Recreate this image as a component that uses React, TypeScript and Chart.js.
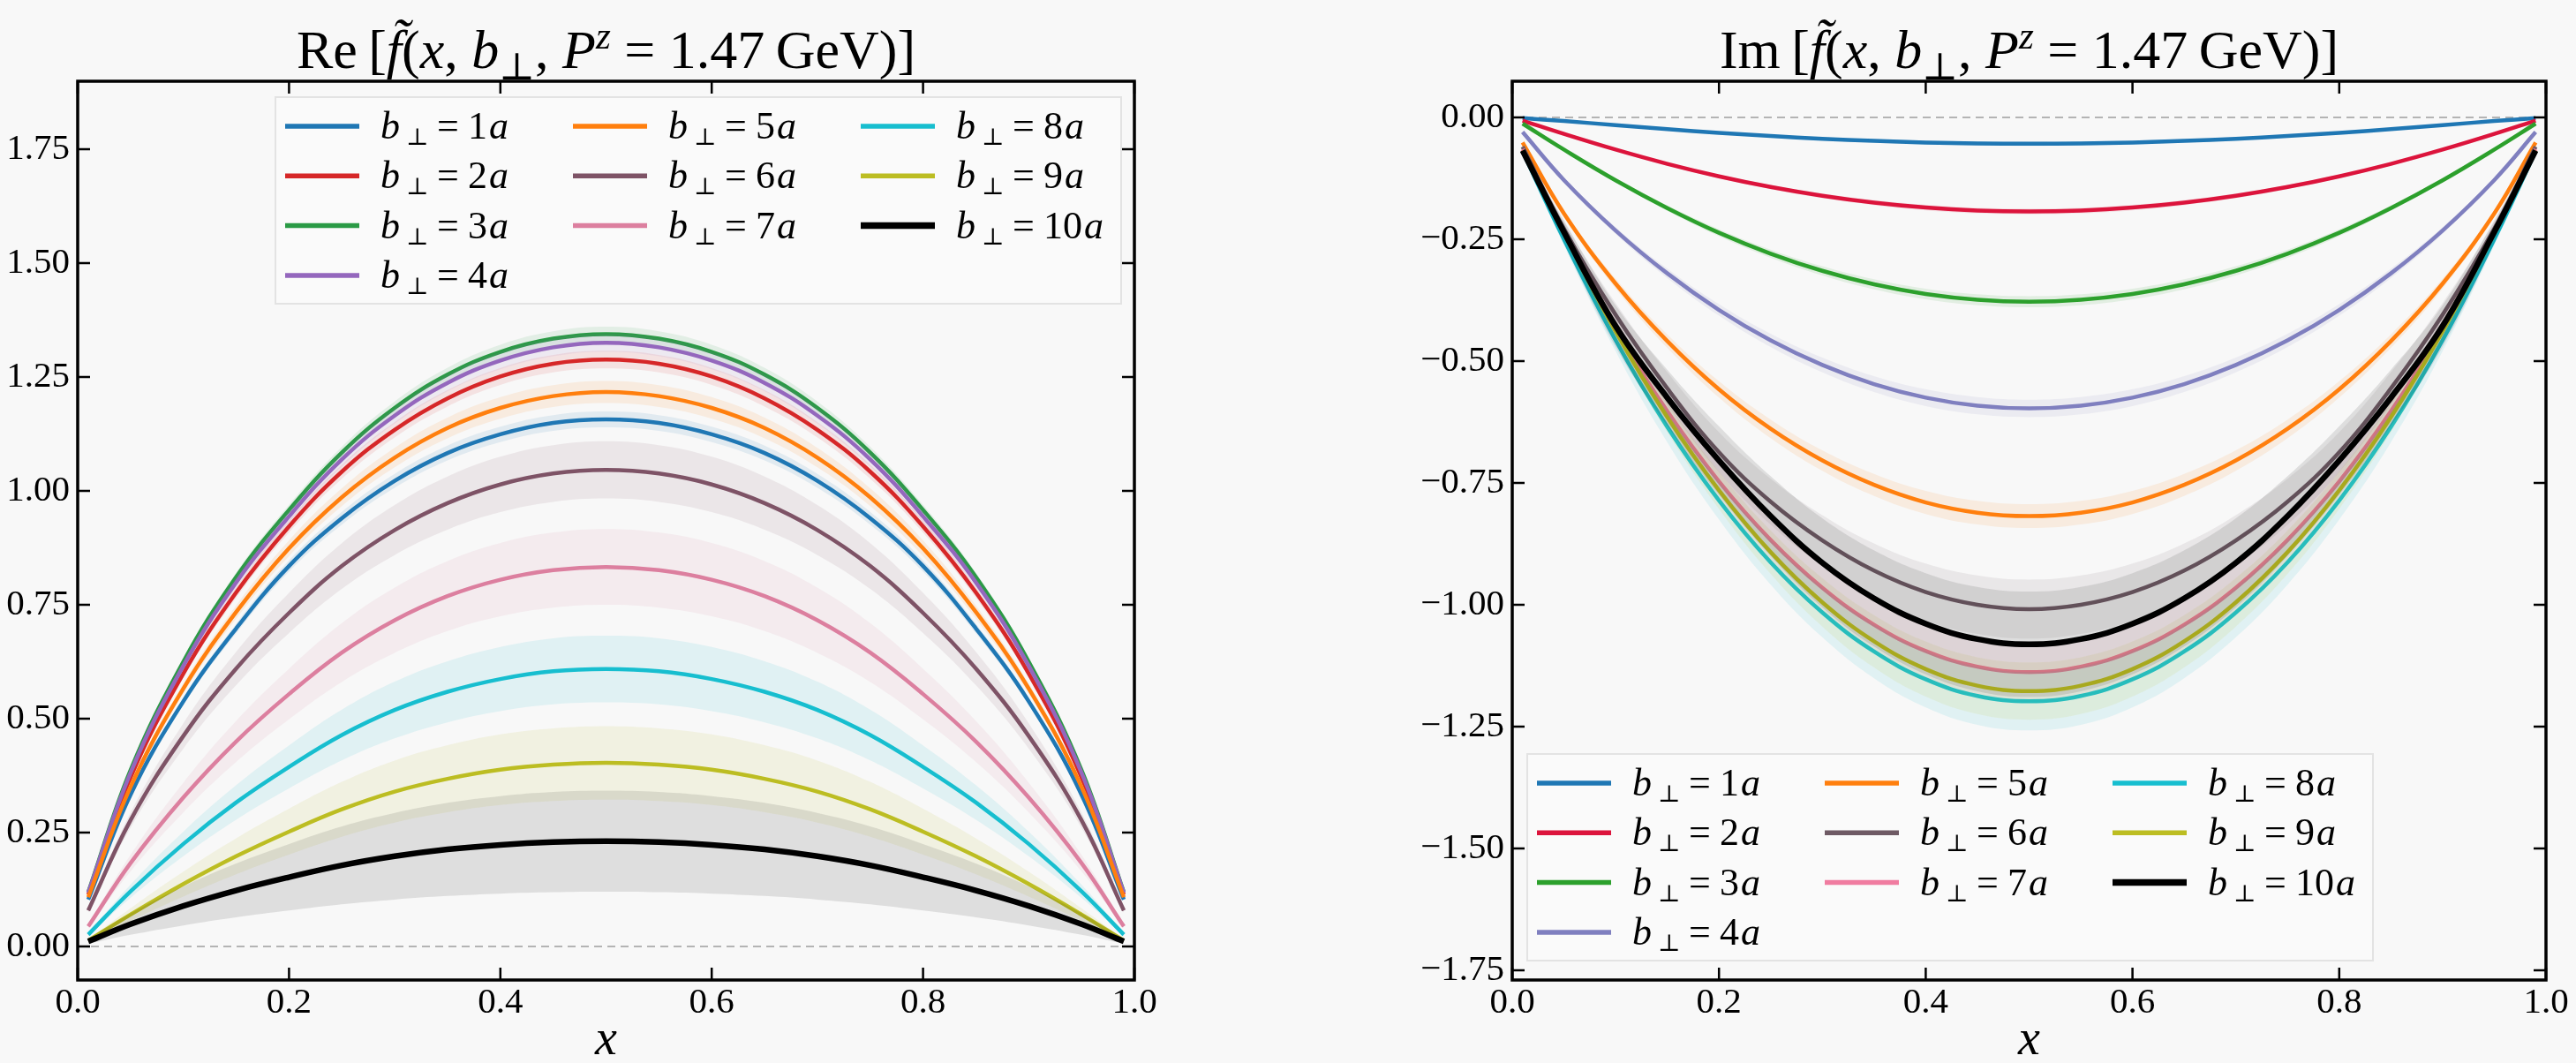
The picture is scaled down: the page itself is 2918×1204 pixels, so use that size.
import React, { useEffect, useRef } from "react";
import { Chart, registerables } from "chart.js";

Chart.register(...registerables);

const SERIF = "'Liberation Serif', 'DejaVu Serif', 'Times New Roman', serif";

const xs = [0.01, 0.05, 0.1, 0.15, 0.2, 0.25, 0.3, 0.35, 0.4, 0.45, 0.5, 0.55, 0.6, 0.65, 0.7, 0.75, 0.8, 0.85, 0.9, 0.95, 0.99];
const xTicks = [0, 0.2, 0.4, 0.6, 0.8, 1.0];
const reTicks = [0, 0.25, 0.5, 0.75, 1.0, 1.25, 1.5, 1.75];
const imTicks = [0, -0.25, -0.5, -0.75, -1.0, -1.25, -1.5, -1.75];
const bPerp = [1, 2, 3, 4, 5, 6, 7, 8, 9, 10];

// Re part, one array per b_perp
const re1 = [0.103, 0.333, 0.538, 0.698, 0.835, 0.94, 1.022, 1.083, 1.124, 1.149, 1.157, 1.149, 1.124, 1.083, 1.022, 0.94, 0.835, 0.698, 0.538, 0.333, 0.103];
const re2 = [0.114, 0.371, 0.599, 0.777, 0.922, 1.042, 1.134, 1.203, 1.251, 1.279, 1.288, 1.279, 1.251, 1.203, 1.134, 1.042, 0.922, 0.777, 0.599, 0.371, 0.114];
const re3 = [0.119, 0.387, 0.625, 0.811, 0.958, 1.084, 1.182, 1.255, 1.305, 1.334, 1.344, 1.334, 1.305, 1.255, 1.182, 1.084, 0.958, 0.811, 0.625, 0.387, 0.119];
const re4 = [0.118, 0.381, 0.616, 0.799, 0.944, 1.069, 1.165, 1.237, 1.286, 1.315, 1.325, 1.315, 1.286, 1.237, 1.165, 1.069, 0.944, 0.799, 0.616, 0.381, 0.118];
const re5 = [0.108, 0.35, 0.566, 0.734, 0.874, 0.986, 1.073, 1.138, 1.182, 1.208, 1.217, 1.208, 1.182, 1.138, 1.073, 0.986, 0.874, 0.734, 0.566, 0.35, 0.108];
const re6 = [0.079, 0.277, 0.462, 0.61, 0.732, 0.835, 0.914, 0.973, 1.014, 1.038, 1.046, 1.038, 1.014, 0.973, 0.914, 0.835, 0.732, 0.61, 0.462, 0.277, 0.079];
const re7 = [0.044, 0.183, 0.327, 0.45, 0.554, 0.645, 0.716, 0.769, 0.805, 0.826, 0.833, 0.826, 0.805, 0.769, 0.716, 0.645, 0.554, 0.45, 0.327, 0.183, 0.044];
const re8 = [0.026, 0.121, 0.225, 0.316, 0.394, 0.464, 0.519, 0.559, 0.587, 0.604, 0.609, 0.604, 0.587, 0.559, 0.519, 0.464, 0.394, 0.316, 0.225, 0.121, 0.026];
const re9 = [0.013, 0.07, 0.137, 0.198, 0.252, 0.301, 0.34, 0.368, 0.388, 0.399, 0.403, 0.399, 0.388, 0.368, 0.34, 0.301, 0.252, 0.198, 0.137, 0.07, 0.013];
const re10 = [0.011, 0.049, 0.089, 0.123, 0.152, 0.178, 0.198, 0.213, 0.223, 0.229, 0.231, 0.229, 0.223, 0.213, 0.198, 0.178, 0.152, 0.123, 0.089, 0.049, 0.011];

// Im part
const im1 = [-0.0015, -0.0074, -0.0158, -0.0241, -0.0316, -0.0382, -0.0438, -0.0482, -0.0514, -0.0533, -0.054, -0.0533, -0.0514, -0.0482, -0.0438, -0.0382, -0.0316, -0.0241, -0.0158, -0.0074, -0.0015];
const im2 = [-0.0065, -0.0338, -0.066, -0.0952, -0.1208, -0.1427, -0.1607, -0.1748, -0.1849, -0.191, -0.193, -0.191, -0.1849, -0.1748, -0.1607, -0.1427, -0.1208, -0.0952, -0.066, -0.0338, -0.0065];
const im3 = [-0.0127, -0.066, -0.129, -0.186, -0.2366, -0.2795, -0.3148, -0.3424, -0.3622, -0.374, -0.378, -0.374, -0.3622, -0.3424, -0.3148, -0.2795, -0.2366, -0.186, -0.129, -0.066, -0.0127];
const im4 = [-0.03, -0.1285, -0.232, -0.32, -0.395, -0.4575, -0.508, -0.5472, -0.575, -0.5915, -0.597, -0.5915, -0.575, -0.5472, -0.508, -0.4575, -0.395, -0.32, -0.232, -0.1285, -0.03];
const im5 = [-0.0514, -0.197, -0.341, -0.459, -0.558, -0.639, -0.704, -0.754, -0.79, -0.811, -0.818, -0.811, -0.79, -0.754, -0.704, -0.639, -0.558, -0.459, -0.341, -0.197, -0.0514];
const im6 = [-0.06, -0.228, -0.405, -0.556, -0.687, -0.7885, -0.868, -0.93, -0.974, -1.0, -1.009, -1.0, -0.974, -0.93, -0.868, -0.7885, -0.687, -0.556, -0.405, -0.228, -0.06];
const im7 = [-0.065, -0.238, -0.434, -0.603, -0.747, -0.867, -0.965, -1.041, -1.095, -1.127, -1.138, -1.127, -1.095, -1.041, -0.965, -0.867, -0.747, -0.603, -0.434, -0.238, -0.065];
const im8 = [-0.07, -0.25, -0.457, -0.635, -0.786, -0.913, -1.016, -1.096, -1.153, -1.187, -1.198, -1.187, -1.153, -1.096, -1.016, -0.913, -0.786, -0.635, -0.457, -0.25, -0.07];
const im9 = [-0.068, -0.237, -0.439, -0.615, -0.765, -0.892, -0.995, -1.075, -1.132, -1.166, -1.177, -1.166, -1.132, -1.075, -0.995, -0.892, -0.765, -0.615, -0.439, -0.237, -0.068];
const im10 = [-0.068, -0.235, -0.428, -0.575, -0.704, -0.818, -0.914, -0.987, -1.039, -1.0705, -1.081, -1.0705, -1.039, -0.987, -0.914, -0.818, -0.704, -0.575, -0.428, -0.235, -0.068];

// relative half-width of the error band of each curve
const reBand = [0.015, 0.015, 0.012, 0.015, 0.02, 0.06, 0.1, 0.12, 0.2, 0.48];
const imBand = [0.08, 0.03, 0.03, 0.03, 0.03, 0.06, 0.05, 0.05, 0.05, 0.1];

const reColors = ["#1f77b4", "#d62728", "#2a9a45", "#9467bd", "#ff7f0e", "#7e5366", "#dc7f9f", "#17becf", "#bcbd22", "#000000"];
const imColors = ["#1f77b4", "#dc143c", "#2ca02c", "#7f7fbf", "#ff7f0e", "#6e5a64", "#f07ca0", "#17becf", "#bcbd22", "#000000"];

const W = 1459;
const H = 1204;

const withAlpha = (hex: string, a: number) => {
  const n = parseInt(hex.slice(1), 16);
  return `rgba(${(n >> 16) & 255}, ${(n >> 8) & 255}, ${n & 255}, ${a})`;
};

const fmtY = (v: number) => (v < 0 ? "\u2212" : "") + Math.abs(v).toFixed(2);

const framePlugin = {
  id: "frame",
  beforeDatasetsDraw(chart: any) {
    const { ctx, chartArea: a, scales } = chart;
    const y0 = scales.y.getPixelForValue(0);
    ctx.save();
    ctx.strokeStyle = "#b4b4b4";
    ctx.lineWidth = 2;
    ctx.setLineDash([9, 6]);
    ctx.beginPath();
    ctx.moveTo(a.left, y0);
    ctx.lineTo(a.right, y0);
    ctx.stroke();
    ctx.restore();
  },
  afterDatasetsDraw(chart: any) {
    const { ctx, chartArea: a, scales } = chart;
    const L = 14;
    ctx.save();
    ctx.strokeStyle = "#000";
    ctx.lineWidth = 2.5;
    ctx.beginPath();
    scales.x.ticks.forEach((t: any) => {
      const p = scales.x.getPixelForValue(t.value);
      ctx.moveTo(p, a.bottom);
      ctx.lineTo(p, a.bottom - L);
      ctx.moveTo(p, a.top);
      ctx.lineTo(p, a.top + L);
    });
    scales.y.ticks.forEach((t: any) => {
      const p = scales.y.getPixelForValue(t.value);
      ctx.moveTo(a.left, p);
      ctx.lineTo(a.left + L, p);
      ctx.moveTo(a.right, p);
      ctx.lineTo(a.right - L, p);
    });
    ctx.stroke();
    ctx.lineWidth = 3.5;
    ctx.strokeRect(a.left, a.top, a.right - a.left, a.bottom - a.top);
    ctx.restore();
  },
};

// b_perp = n a, drawn as math text
function drawBLabel(ctx: CanvasRenderingContext2D, x: number, y: number, n: number) {
  const fs = 44;
  ctx.fillStyle = "#000";
  ctx.textAlign = "left";
  ctx.textBaseline = "alphabetic";
  ctx.font = `italic ${fs}px ${SERIF}`;
  ctx.fillText("b", x - 2, y);
  ctx.font = `27px ${SERIF}`;
  ctx.fillText("\u22a5", x + 27, y + 7);
  ctx.font = `${fs}px ${SERIF}`;
  ctx.fillText("=", x + 62, y);
  const s = String(n);
  ctx.fillText(s, x + 97, y);
  const w = ctx.measureText(s).width;
  ctx.font = `italic ${fs}px ${SERIF}`;
  ctx.fillText("a", x + 99 + w, y);
}

const makeLegend = (pos: { x: number; y: number }) => ({
  id: "bLegend",
  afterDatasetsDraw(chart: any) {
    const { ctx, chartArea: a } = chart;
    const items = chart.data.datasets.filter((d: any) => d.isCurve);
    const ncol = 3;
    const nrow = Math.ceil(items.length / ncol);
    const extra = items.length % ncol;
    const bx = a.left + pos.x;
    const by = a.top + pos.y;
    ctx.save();
    ctx.fillStyle = "rgba(249, 249, 249, 0.9)";
    ctx.fillRect(bx, by, 958, 234);
    ctx.strokeStyle = "#e3e3e3";
    ctx.lineWidth = 2;
    ctx.strokeRect(bx, by, 958, 234);
    let idx = 0;
    for (let c = 0; c < ncol; c++) {
      const rows = extra === 0 || c < extra ? nrow : nrow - 1;
      for (let r = 0; r < rows && idx < items.length; r++, idx++) {
        const d = items[idx];
        const lx = bx + 11 + c * 326;
        const ly = by + 33 + r * 56.3;
        ctx.strokeStyle = d.borderColor;
        ctx.lineWidth = d.borderWidth + 1;
        ctx.lineCap = "butt";
        ctx.beginPath();
        ctx.moveTo(lx, ly);
        ctx.lineTo(lx + 84, ly);
        ctx.stroke();
        drawBLabel(ctx, lx + 110, ly + 14, d.bNum);
      }
    }
    ctx.restore();
  },
});

type PanelProps = {
  part: string;
  left: number;
  series: number[][];
  colors: string[];
  band: number[];
  yMin: number;
  yMax: number;
  yTicks: number[];
  axisW: number;
  padRight: number;
  legendPos: { x: number; y: number };
};

const Panel: React.FC<PanelProps> = (p) => {
  const canvasRef = useRef<HTMLCanvasElement | null>(null);
  const chartRef = useRef<Chart | null>(null);

  useEffect(() => {
    if (!canvasRef.current) return;
    const ctx = canvasRef.current.getContext("2d");
    if (!ctx) return;
    if (chartRef.current) chartRef.current.destroy();

    const datasets: any[] = [];
    p.series.forEach((vals, k) => {
      const base = 100 - k * 3;
      const pts = (f: number) => xs.map((x, i) => ({ x, y: vals[i] * f }));
      datasets.push({
        data: pts(1 + p.band[k]),
        borderWidth: 0,
        borderColor: "transparent",
        backgroundColor: withAlpha(p.colors[k], 0.1),
        fill: "+1",
        pointRadius: 0,
        tension: 0.4,
        order: base + 2,
      });
      datasets.push({
        data: pts(1 - p.band[k]),
        borderWidth: 0,
        borderColor: "transparent",
        fill: false,
        pointRadius: 0,
        tension: 0.4,
        order: base + 1,
      });
      datasets.push({
        label: `b\u22a5 = ${bPerp[k]}a`,
        bNum: bPerp[k],
        isCurve: true,
        data: pts(1),
        borderColor: p.colors[k],
        borderWidth: k === 9 ? 6.5 : 4.5,
        fill: false,
        pointRadius: 0,
        tension: 0.4,
        order: base,
      });
    });

    const tickFont = { family: SERIF, size: 41 };

    chartRef.current = new Chart(ctx, {
      type: "line",
      data: { datasets },
      options: {
        responsive: false,
        animation: false,
        devicePixelRatio: 1,
        layout: { padding: { left: 0, right: p.padRight, top: 92, bottom: 0 } },
        plugins: {
          legend: { display: false },
          tooltip: { enabled: false },
          title: { display: false },
        },
        scales: {
          x: {
            type: "linear",
            min: 0,
            max: 1,
            afterBuildTicks: (s: any) => {
              s.ticks = xTicks.map((v) => ({ value: v }));
            },
            afterFit: (s: any) => {
              s.height = 94;
            },
            grid: { display: false, drawTicks: false },
            border: { display: false },
            ticks: {
              padding: 2,
              color: "#000",
              font: tickFont,
              maxRotation: 0,
              autoSkip: false,
              callback: (v: any) => Number(v).toFixed(1),
            },
            title: {
              display: true,
              text: "x",
              color: "#000",
              font: { family: SERIF, size: 56, style: "italic", lineHeight: 1 },
              padding: { top: 0, bottom: -3 },
            },
          },
          y: {
            type: "linear",
            min: p.yMin,
            max: p.yMax,
            afterBuildTicks: (s: any) => {
              s.ticks = p.yTicks.map((v) => ({ value: v }));
            },
            afterFit: (s: any) => {
              s.width = p.axisW;
            },
            grid: { display: false, drawTicks: false },
            border: { display: false },
            ticks: {
              padding: 9,
              color: "#000",
              font: tickFont,
              autoSkip: false,
              callback: (v: any) => fmtY(Number(v)),
            },
          },
        },
      } as any,
      plugins: [framePlugin, makeLegend(p.legendPos)],
    });

    return () => {
      if (chartRef.current) {
        chartRef.current.destroy();
        chartRef.current = null;
      }
    };
  }, []);

  const small: React.CSSProperties = { fontSize: "0.7em", lineHeight: 0 };
  return (
    <div style={{ position: "absolute", left: p.left, top: 0, width: W, height: H }}>
      <canvas ref={canvasRef} width={W} height={H} style={{ display: "block", width: W, height: H }} />
      <div
        style={{
          position: "absolute",
          left: p.axisW,
          width: W - p.axisW - p.padRight,
          top: 25,
          textAlign: "center",
          fontFamily: SERIF,
          fontSize: 62,
          lineHeight: "62px",
          whiteSpace: "nowrap",
          color: "#000",
        }}
      >
        {p.part}
        {"\u2009["}
        <i>{"f\u0303"}</i>(<i>x</i>, <i>b</i>
        <span style={{ ...small, verticalAlign: "-0.3em" }}>{"\u22a5"}</span>, <i>P</i>
        <i style={{ ...small, verticalAlign: "0.5em" }}>z</i> = 1.47{"\u2009"}GeV)]
      </div>
    </div>
  );
};

export default function App() {
  return (
    <div
      style={{
        position: "absolute",
        left: 0,
        top: 0,
        width: 2918,
        height: 1204,
        background: "#f8f8f8",
        overflow: "hidden",
      }}
    >
      <Panel
        part="Re"
        left={0}
        series={[re1, re2, re3, re4, re5, re6, re7, re8, re9, re10]}
        colors={reColors}
        band={reBand}
        yMin={-0.0736}
        yMax={1.899}
        yTicks={reTicks}
        axisW={88}
        padRight={174}
        legendPos={{ x: 224, y: 18 }}
      />
      <Panel
        part="Im"
        left={1459}
        series={[im1, im2, im3, im4, im5, im6, im7, im8, im9, im10]}
        colors={imColors}
        band={imBand}
        yMin={-1.77}
        yMax={0.0743}
        yTicks={imTicks}
        axisW={254}
        padRight={34}
        legendPos={{ x: 17, y: 762 }}
      />
    </div>
  );
}
